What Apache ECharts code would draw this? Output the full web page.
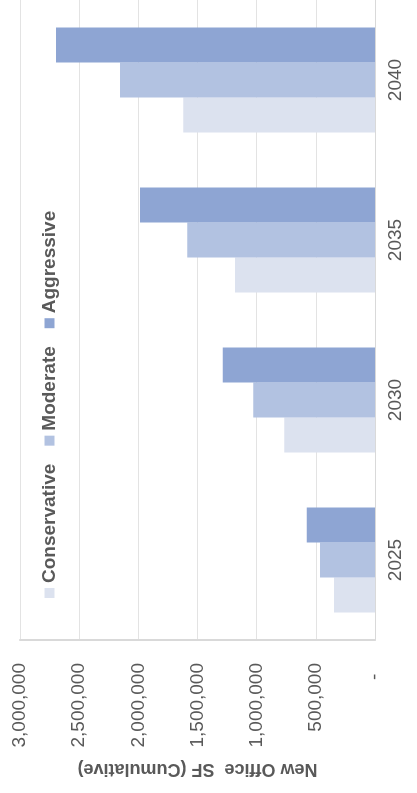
<!DOCTYPE html>
<html>
<head>
<meta charset="utf-8">
<script src="https://cdn.jsdelivr.net/npm/echarts@6/dist/echarts.min.js"></script>
<style>
  html, body { margin: 0; padding: 0; background: #fff; overflow: hidden; }
  #wrap { position: absolute; left: 0; top: 0; width: 417px; height: 793px; overflow: hidden; }
  #chart {
    position: absolute; left: 0; top: 0; width: 793px; height: 417px;
    transform-origin: 0 0;
    transform: translate(0px, 793px) rotate(-90deg);
  }
</style>
</head>
<body>
<div id="wrap"><div id="chart"></div></div>
<script>
const categories = ['2025', '2030', '2035', '2040'];
const seriesNames = ['Conservative', 'Moderate', 'Aggressive'];
const conservative = [346000, 766000, 1183000, 1620000];
const moderate = [465000, 1028000, 1586000, 2155000];
const aggressive = [577000, 1287000, 1986000, 2696000];
const valueTicks = [0, 500000, 1000000, 1500000, 2000000, 2500000, 3000000];
const axisTitle = 'New Office  SF (Cumulative)';

const colors = ['#DCE2EF', '#B2C2E1', '#8EA5D3'];
const font = "'Liberation Sans', Arial, sans-serif";
const chart = echarts.init(document.getElementById('chart'));
const seriesData = [conservative, moderate, aggressive];

chart.setOption({
  animation: false,
  textStyle: { fontFamily: font },
  color: colors,
  legend: {
    data: seriesNames,
    left: 190,
    top: 35,
    itemWidth: 10,
    itemHeight: 10,
    itemGap: 18,
    icon: 'rect',
    textStyle: { fontSize: 19, fontWeight: 'bold', color: '#595959', fontFamily: font }
  },
  grid: { left: 153, right: 0, top: 20, bottom: 42, containLabel: false },
  xAxis: {
    type: 'category',
    data: categories,
    axisLine: { show: true, lineStyle: { color: '#d9d9d9', width: 1 } },
    axisTick: { show: false },
    axisLabel: { fontSize: 19, color: '#595959', margin: 11, fontFamily: font }
  },
  yAxis: {
    type: 'value',
    min: valueTicks[0],
    max: valueTicks[valueTicks.length - 1],
    interval: valueTicks[1] - valueTicks[0],
    name: axisTitle,
    nameLocation: 'middle',
    nameRotate: 90,
    nameGap: 120,
    nameTextStyle: { fontSize: 18, fontWeight: 'bold', color: '#595959', fontFamily: font },
    axisLine: { show: true, lineStyle: { color: '#d9d9d9', width: 2 } },
    axisTick: { show: false },
    splitLine: { lineStyle: { color: '#e3e3e3', width: 1 } },
    axisLabel: {
      fontSize: 19, color: '#595959', margin: 23, fontFamily: font,
      formatter: function (v) { return v === 0 ? '-  ' : v.toLocaleString('en-US'); }
    }
  },
  series: seriesNames.map(function (name, i) {
    return {
      name: name,
      type: 'bar',
      data: seriesData[i],
      barWidth: 35,
      barGap: '0%',
      itemStyle: { color: colors[i] }
    };
  })
});
</script>
</body>
</html>
